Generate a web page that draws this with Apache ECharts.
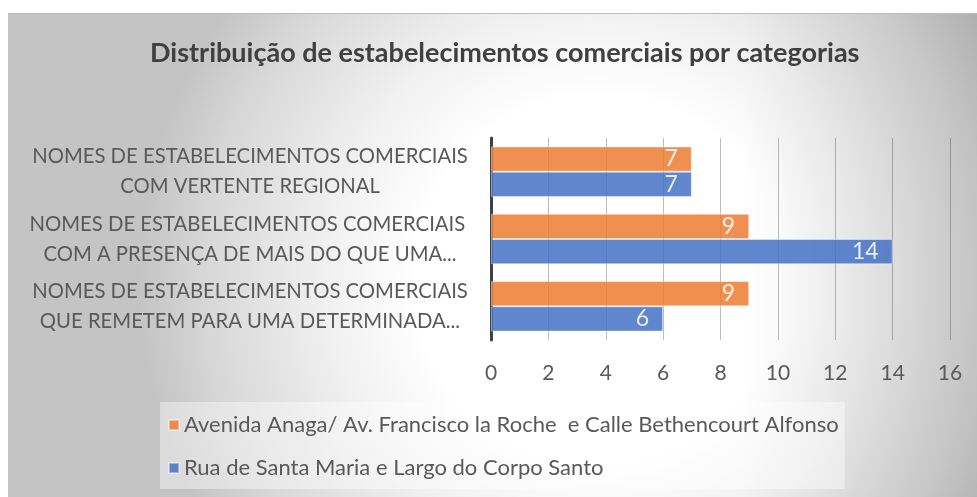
<!DOCTYPE html>
<html>
<head>
<meta charset="utf-8">
<style>
  html, body { margin: 0; padding: 0; background: #fff; }
  #main { width: 977px; height: 497px; }
</style>
<script src="https://cdn.jsdelivr.net/npm/echarts@6/dist/echarts.min.js"></script>
</head>
<body>
<div id="main"></div>
<script>
// categorias (de baixo para cima, como o eixo do ECharts as desenha)
var categorias = [
  'NOMES DE ESTABELECIMENTOS COMERCIAIS\nQUE REMETEM PARA UMA DETERMINADA...',
  'NOMES DE ESTABELECIMENTOS COMERCIAIS \nCOM A PRESENÇA DE MAIS DO QUE UMA...',
  'NOMES DE ESTABELECIMENTOS COMERCIAIS\nCOM VERTENTE REGIONAL'
]
var nomeAvenida = 'Avenida Anaga/ Av. Francisco la Roche  e Calle Bethencourt Alfonso'
var nomeRua = 'Rua de Santa Maria e Largo do Corpo Santo'
var valoresAvenida = [9, 9, 7]
var valoresRua = [6, 14, 7]
var eixoMin = 0
var eixoMax = 16
var eixoPasso = 2

var fonte = 'Lato'
var cinza = '#595959'

var chart = echarts.init(document.getElementById('main'))
option = {
  backgroundColor: '#ffffff',
  animation: false,
  graphic: [
    {
      type: 'rect',
      left: 8, top: 13,
      z: -10, silent: true,
      shape: { width: 969, height: 484 },
      style: {
        fill: new echarts.graphic.RadialGradient(0.61, 0.55, 0.95, [
          { offset: 0, color: '#ffffff' },
          { offset: 0.4, color: '#ffffff' },
          { offset: 0.6, color: '#f0f0f0' },
          { offset: 0.85, color: '#d8d8d8' },
          { offset: 1, color: '#c4c4c4' }
        ])
      }
    },
    {
      // escurecimento do lado direito
      type: 'rect',
      left: 740, top: 13,
      z: -9, silent: true,
      shape: { width: 237, height: 484 },
      style: {
        fill: new echarts.graphic.LinearGradient(0, 0, 1, 0, [
          { offset: 0, color: 'rgba(0,0,0,0)' },
          { offset: 1, color: 'rgba(0,0,0,0.1)' }
        ])
      }
    },
    {
      type: 'line', z: -8, silent: true,
      shape: { x1: 8, y1: 13.5, x2: 977, y2: 13.5 },
      style: { stroke: '#bcbcbc', lineWidth: 1 }
    }
  ],
  title: {
    text: 'Distribuição de estabelecimentos comerciais por categorias',
    left: 145,
    top: 35,
    textStyle: { fontFamily: fonte, fontSize: 27, fontWeight: 'bold', color: '#404040' }
  },
  legend: {
    orient: 'vertical',
    left: 160,
    top: 402,
    data: [nomeAvenida, nomeRua],
    icon: 'rect',
    itemWidth: 10,
    itemHeight: 10,
    itemGap: 21,
    padding: [12, 6, 10, 8],
    backgroundColor: 'rgba(255,255,255,0.4)',
    textStyle: { fontFamily: fonte, fontSize: 22, color: cinza, lineHeight: 22 }
  },
  grid: {
    left: 491,
    right: 27,
    top: 138,
    bottom: 157
  },
  xAxis: {
    type: 'value',
    min: eixoMin,
    max: eixoMax,
    interval: eixoPasso,
    axisLine: { show: false },
    axisTick: { show: false },
    axisLabel: { fontFamily: fonte, fontSize: 21, color: cinza, margin: 23 },
    splitLine: { lineStyle: { color: 'rgba(0,0,0,0.26)', width: 1 } }
  },
  yAxis: {
    type: 'category',
    data: categorias,
    axisTick: { show: false },
    axisLine: { lineStyle: { color: '#404040', width: 3 } },
    axisLabel: {
      fontFamily: fonte, fontSize: 20.3, color: cinza,
      align: 'center', margin: 241, lineHeight: 30
    }
  },
  series: [
    {
      name: nomeAvenida,
      type: 'bar',
      data: valoresAvenida,
      barCategoryGap: '25%',
      barGap: '0%',
      itemStyle: { color: '#ED7D31', opacity: 0.85, borderColor: 'rgba(255,255,255,0.5)', borderWidth: 1 },
      label: { show: true, position: 'insideRight', distance: 14, color: '#fff', fontFamily: fonte, fontSize: 23 }
    },
    {
      name: nomeRua,
      type: 'bar',
      data: valoresRua,
      barCategoryGap: '25%',
      barGap: '0%',
      itemStyle: { color: '#4472C4', opacity: 0.85, borderColor: 'rgba(255,255,255,0.5)', borderWidth: 1 },
      label: { show: true, position: 'insideRight', distance: 14, color: '#fff', fontFamily: fonte, fontSize: 23 }
    }
  ]
}
chart.setOption(option)
</script>
</body>
</html>
